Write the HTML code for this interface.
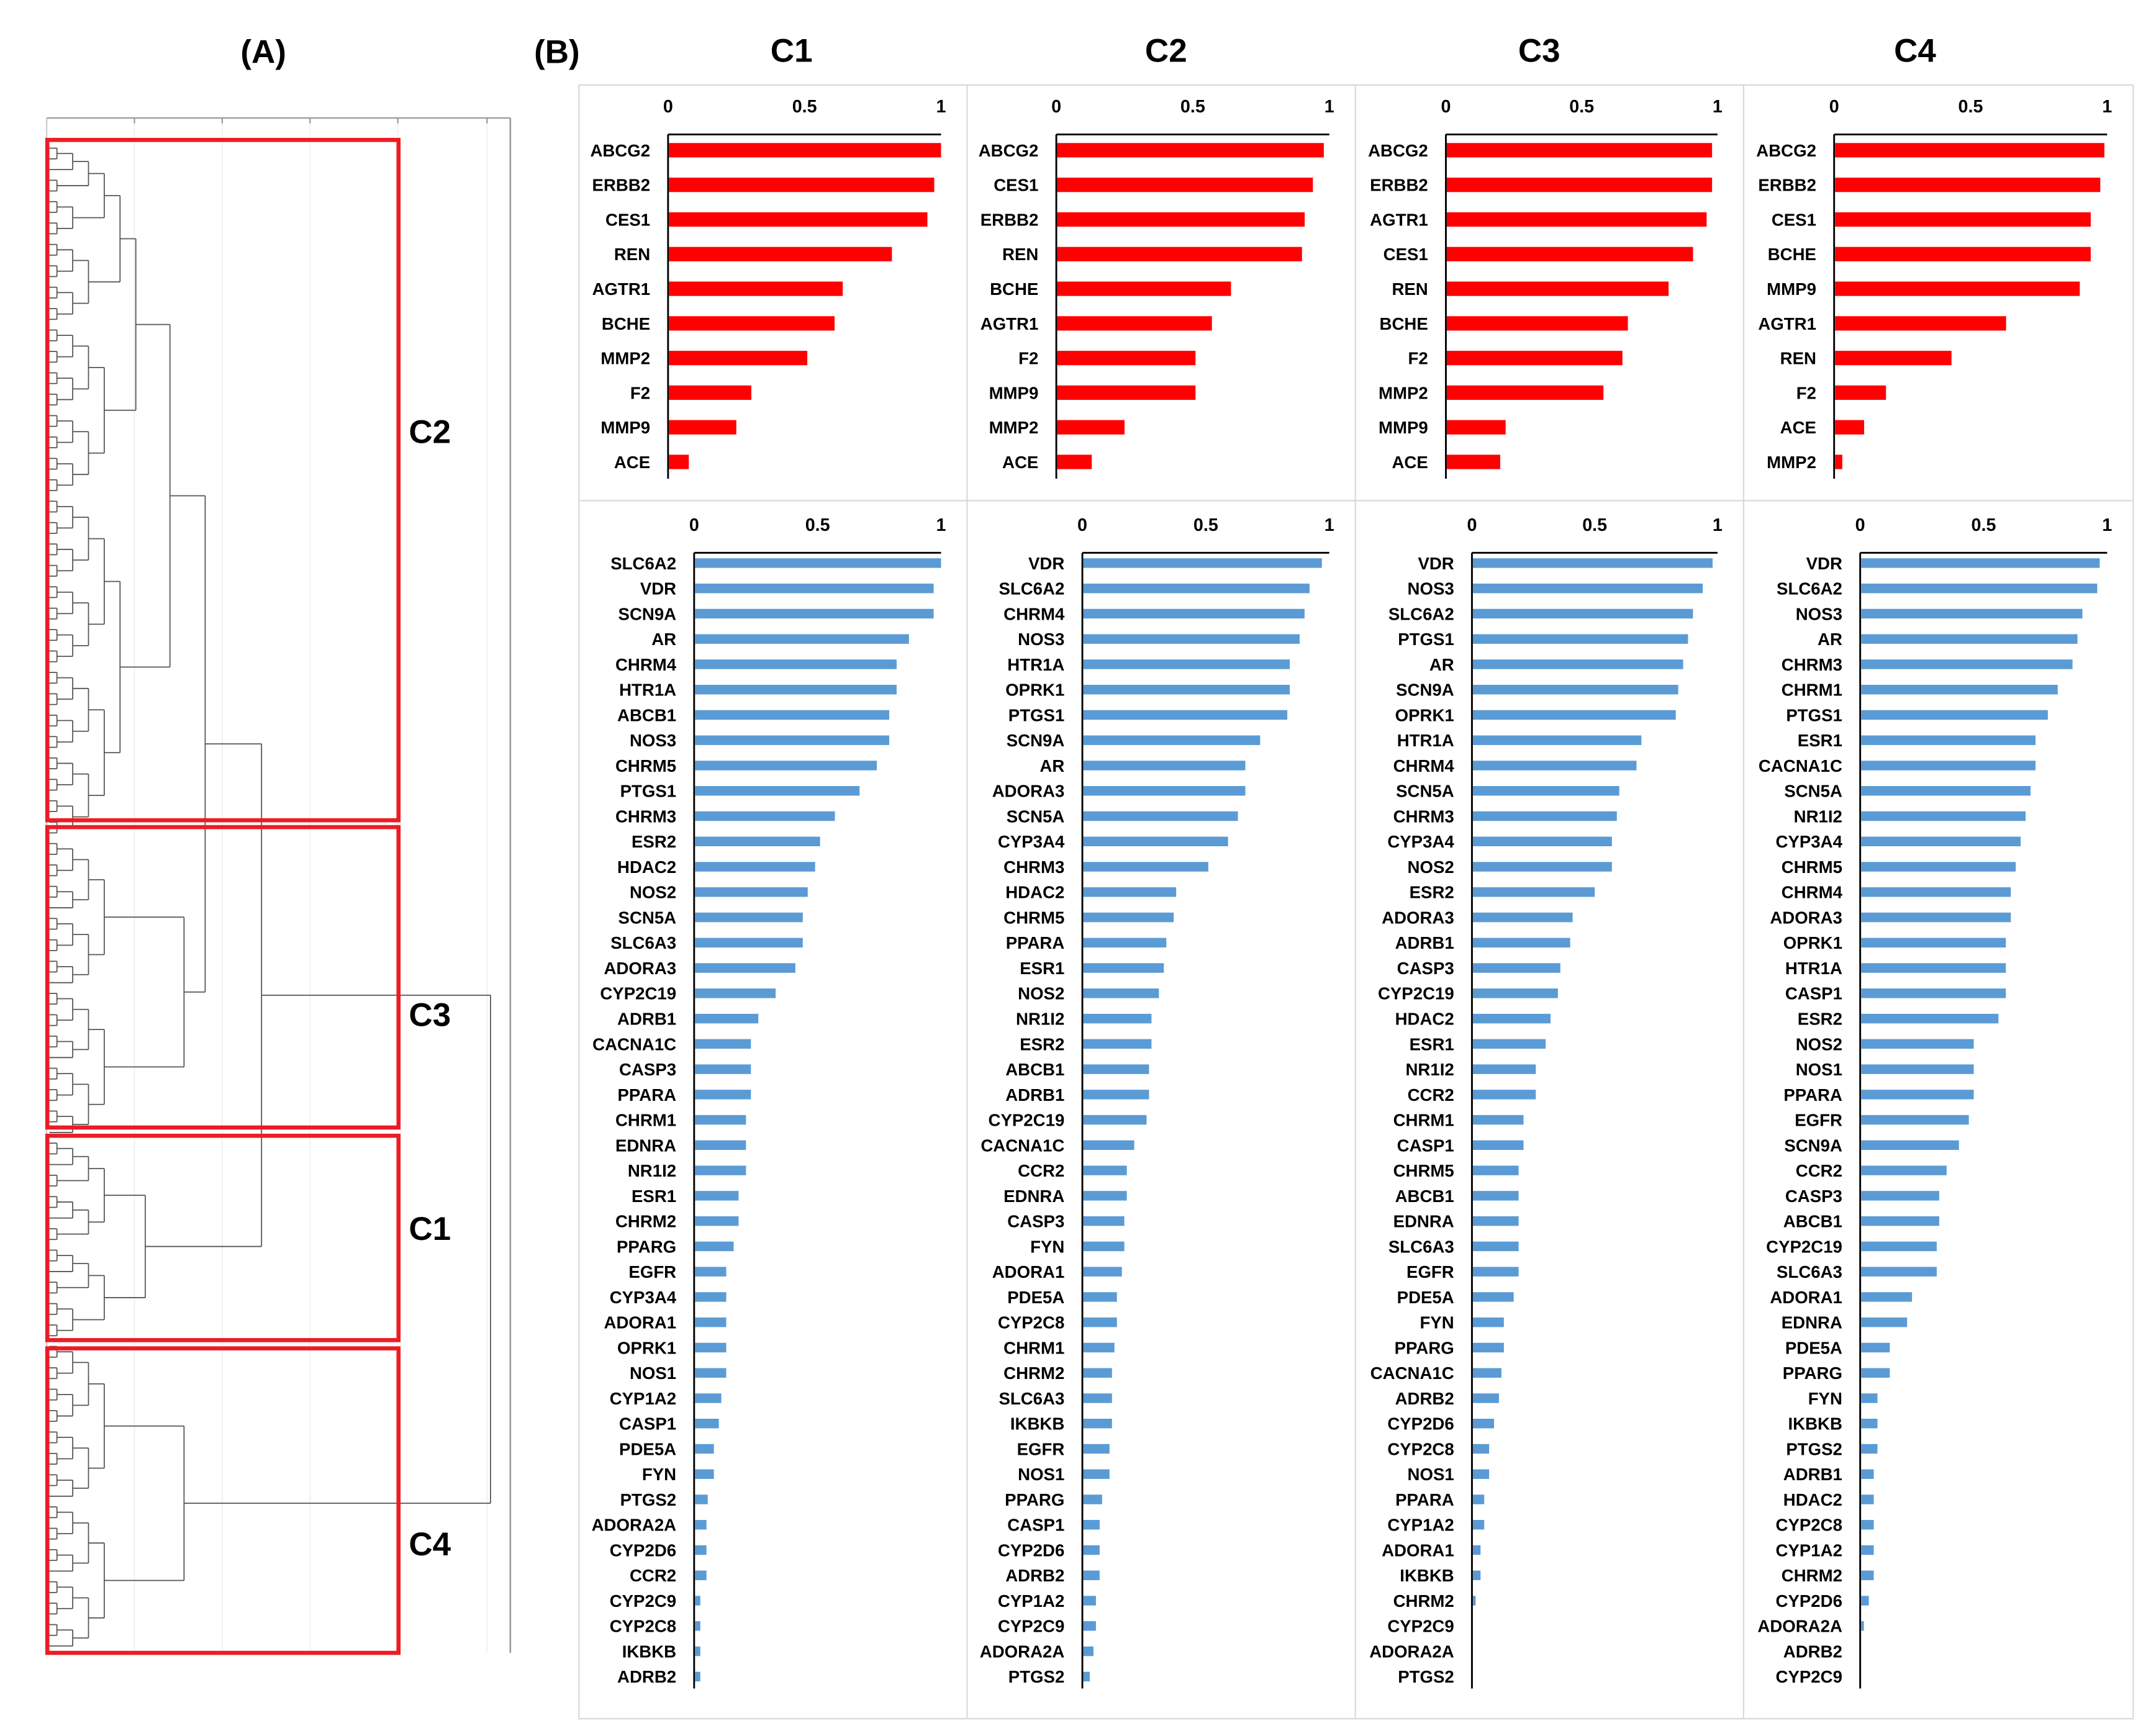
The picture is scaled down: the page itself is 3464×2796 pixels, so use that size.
<!DOCTYPE html>
<html><head><meta charset="utf-8"><style>
html,body{margin:0;padding:0;background:#fff;}
svg{display:block;font-family:"Liberation Sans",sans-serif;font-weight:bold;}
</style></head><body>
<svg id="fig" xmlns="http://www.w3.org/2000/svg" width="3464" height="2796" viewBox="0 0 1568 1265.6">
<rect x="0" y="0" width="1568" height="1265.6" fill="#fff"/>
<text x="192" y="46" font-size="24" text-anchor="middle">(A)</text>
<text x="406" y="46" font-size="24" text-anchor="middle">(B)</text>
<g id="dendro"></g>
<g id="panelb"></g>
</svg>
<script>
// ---------- Panel B data ----------
const clusterNames = ["C1","C2","C3","C4"];
const topGenesC1 = ["ABCG2","ERBB2","CES1","REN","AGTR1","BCHE","MMP2","F2","MMP9","ACE"];
const topValsC1 = [1.0,0.975,0.95,0.82,0.64,0.61,0.51,0.305,0.25,0.076];
const topGenesC2 = ["ABCG2","CES1","ERBB2","REN","BCHE","AGTR1","F2","MMP9","MMP2","ACE"];
const topValsC2 = [0.98,0.94,0.91,0.90,0.64,0.57,0.51,0.51,0.25,0.13];
const topGenesC3 = ["ABCG2","ERBB2","AGTR1","CES1","REN","BCHE","F2","MMP2","MMP9","ACE"];
const topValsC3 = [0.98,0.98,0.96,0.91,0.82,0.67,0.65,0.58,0.22,0.20];
const topGenesC4 = ["ABCG2","ERBB2","CES1","BCHE","MMP9","AGTR1","REN","F2","ACE","MMP2"];
const topValsC4 = [0.99,0.975,0.94,0.94,0.90,0.63,0.43,0.19,0.11,0.03];

const botGenesC1 = ["SLC6A2","VDR","SCN9A","AR","CHRM4","HTR1A","ABCB1","NOS3","CHRM5","PTGS1","CHRM3","ESR2","HDAC2","NOS2","SCN5A","SLC6A3","ADORA3","CYP2C19","ADRB1","CACNA1C","CASP3","PPARA","CHRM1","EDNRA","NR1I2","ESR1","CHRM2","PPARG","EGFR","CYP3A4","ADORA1","OPRK1","NOS1","CYP1A2","CASP1","PDE5A","FYN","PTGS2","ADORA2A","CYP2D6","CCR2","CYP2C9","CYP2C8","IKBKB","ADRB2"];
const botValsC1 = [1.0,0.97,0.97,0.87,0.82,0.82,0.79,0.79,0.74,0.67,0.57,0.51,0.49,0.46,0.44,0.44,0.41,0.33,0.26,0.23,0.23,0.23,0.21,0.21,0.21,0.18,0.18,0.16,0.13,0.13,0.13,0.13,0.13,0.11,0.10,0.08,0.08,0.055,0.05,0.05,0.05,0.025,0.025,0.025,0.025];
const botGenesC2 = ["VDR","SLC6A2","CHRM4","NOS3","HTR1A","OPRK1","PTGS1","SCN9A","AR","ADORA3","SCN5A","CYP3A4","CHRM3","HDAC2","CHRM5","PPARA","ESR1","NOS2","NR1I2","ESR2","ABCB1","ADRB1","CYP2C19","CACNA1C","CCR2","EDNRA","CASP3","FYN","ADORA1","PDE5A","CYP2C8","CHRM1","CHRM2","SLC6A3","IKBKB","EGFR","NOS1","PPARG","CASP1","CYP2D6","ADRB2","CYP1A2","CYP2C9","ADORA2A","PTGS2"];
const botValsC2 = [0.97,0.92,0.90,0.88,0.84,0.84,0.83,0.72,0.66,0.66,0.63,0.59,0.51,0.38,0.37,0.34,0.33,0.31,0.28,0.28,0.27,0.27,0.26,0.21,0.18,0.18,0.17,0.17,0.16,0.14,0.14,0.13,0.12,0.12,0.12,0.11,0.11,0.08,0.07,0.07,0.07,0.055,0.055,0.045,0.03];
const botGenesC3 = ["VDR","NOS3","SLC6A2","PTGS1","AR","SCN9A","OPRK1","HTR1A","CHRM4","SCN5A","CHRM3","CYP3A4","NOS2","ESR2","ADORA3","ADRB1","CASP3","CYP2C19","HDAC2","ESR1","NR1I2","CCR2","CHRM1","CASP1","CHRM5","ABCB1","EDNRA","SLC6A3","EGFR","PDE5A","FYN","PPARG","CACNA1C","ADRB2","CYP2D6","CYP2C8","NOS1","PPARA","CYP1A2","ADORA1","IKBKB","CHRM2","CYP2C9","ADORA2A","PTGS2"];
const botValsC3 = [0.98,0.94,0.90,0.88,0.86,0.84,0.83,0.69,0.67,0.60,0.59,0.57,0.57,0.50,0.41,0.40,0.36,0.35,0.32,0.30,0.26,0.26,0.21,0.21,0.19,0.19,0.19,0.19,0.19,0.17,0.13,0.13,0.12,0.11,0.09,0.07,0.07,0.05,0.05,0.035,0.035,0.015,0,0,0];
const botGenesC4 = ["VDR","SLC6A2","NOS3","AR","CHRM3","CHRM1","PTGS1","ESR1","CACNA1C","SCN5A","NR1I2","CYP3A4","CHRM5","CHRM4","ADORA3","OPRK1","HTR1A","CASP1","ESR2","NOS2","NOS1","PPARA","EGFR","SCN9A","CCR2","CASP3","ABCB1","CYP2C19","SLC6A3","ADORA1","EDNRA","PDE5A","PPARG","FYN","IKBKB","PTGS2","ADRB1","HDAC2","CYP2C8","CYP1A2","CHRM2","CYP2D6","ADORA2A","ADRB2","CYP2C9"];
const botValsC4 = [0.97,0.96,0.90,0.88,0.86,0.80,0.76,0.71,0.71,0.69,0.67,0.65,0.63,0.61,0.61,0.59,0.59,0.59,0.56,0.46,0.46,0.46,0.44,0.40,0.35,0.32,0.32,0.31,0.31,0.21,0.19,0.12,0.12,0.07,0.07,0.07,0.055,0.055,0.055,0.055,0.055,0.035,0.015,0,0];
const tickVals = [0, 0.5, 1];
const tickLabels = ["0","0.5","1"];

// ---------- Dendrogram data (leaf counts per cluster, top to bottom) ----------
const clusterOrder = ["C2","C3","C1","C4"];
const clusterLeafCounts = [65, 28, 19, 29];
const clusterRootHeights = [0.35, 0.39, 0.28, 0.39];
const joinHeights = [0.45, 0.61, 1.26]; // C2+C3, +C1, +C4 (axis units 0..1.35)

const NS="http://www.w3.org/2000/svg";
function mk(tag, attrs, parent){const e=document.createElementNS(NS,tag);for(const k in attrs)e.setAttribute(k,attrs[k]);parent.appendChild(e);return e;}

// ---------- Panel B ----------
const pb=document.getElementById('panelb');
const gridColor="#d9d9d9";
const frame=mk('rect',{x:422,y:62,width:1133,height:1191,fill:'none',stroke:gridColor,'stroke-width':1},pb);

const hdiv=mk('line',{x1:422,y1:365,x2:1555,y2:365,stroke:gridColor,'stroke-width':1},pb);

[705,988,1271].forEach(x=>{const l=mk('line',{x1:x,y1:62,x2:x,y2:1253,stroke:gridColor,'stroke-width':1},pb);
});
const titleX=[577,850,1122,1396];
const topAxis0=[487,770,1054,1337], topAxis1=[686,969,1252,1536];
const botAxis0=[506,789,1073,1356], botAxis1=[686,969,1252,1536];
const topG=[topGenesC1,topGenesC2,topGenesC3,topGenesC4], topV=[topValsC1,topValsC2,topValsC3,topValsC4];
const botG=[botGenesC1,botGenesC2,botGenesC3,botGenesC4], botV=[botValsC1,botValsC2,botValsC3,botValsC4];

function drawChart(g, genes, vals, a0, a1, axisY, tickY, row0, rowStep, barH, color, yEnd, nameP){
  const sx=v=>a0+(a1-a0)*v;
  tickVals.forEach((t,i)=>{const tx=mk('text',{x:sx(t),y:tickY,'font-size':13,'text-anchor':'middle'},g);tx.textContent=tickLabels[i];
    });
  const ax=mk('line',{x1:a0,y1:axisY,x2:a1,y2:axisY,stroke:'#000','stroke-width':1.3},g);
  
  const ay=mk('line',{x1:a0,y1:axisY,x2:a0,y2:yEnd,stroke:'#000','stroke-width':1.3},g);
  
  genes.forEach((gn,i)=>{const cy=row0+i*rowStep;
    const r=mk('rect',{x:a0+0.7,y:cy-barH/2,width:Math.max(0,sx(vals[i])-a0-0.7),height:barH,fill:color},g);
    
    const t=mk('text',{x:a0-13,y:cy+4.5,'font-size':12.5,'text-anchor':'end'},g);t.textContent=gn;
    });
}
for(let c=0;c<4;c++){
  const tt=mk('text',{x:titleX[c],y:45,'font-size':24,'text-anchor':'middle'},pb);tt.textContent=clusterNames[c];
  
  const gt=mk('g',{},pb);
  drawChart(gt,topG[c],topV[c],topAxis0[c],topAxis1[c],98,82,109.5,25.25,10.5,'#ff0000',349,'top-'+clusterNames[c].toLowerCase());
  const gb=mk('g',{},pb);
  drawChart(gb,botG[c],botV[c],botAxis0[c],botAxis1[c],403,387,410.5,18.45,7,'#5b9bd5',1231,'bottom-'+clusterNames[c].toLowerCase());
}

// ---------- Dendrogram ----------
const dg=document.getElementById('dendro');
const dx0=34, dx1=355; // axis 0 .. 1.25
const hx=h=>dx0+(dx1-dx0)*(h/1.25);
[98,162,226,290,355].forEach(x=>{const l=mk('line',{x1:x,y1:86,x2:x,y2:1205,stroke:'#efefef','stroke-width':0.8},dg);
  });
const dtop=mk('line',{x1:34,y1:86,x2:372,y2:86,stroke:'#999','stroke-width':1},dg);

[34,98,162,226,290,355].forEach(x=>{const l=mk('line',{x1:x,y1:86,x2:x,y2:90,stroke:'#999','stroke-width':1},dg);
  });
const dright=mk('line',{x1:372,y1:86,x2:372,y2:1205,stroke:'#999','stroke-width':1.2},dg);

const dleft=mk('line',{x1:34,y1:86,x2:34,y2:1205,stroke:'#ccc','stroke-width':1},dg);


const leafStep=(1200-108)/(clusterLeafCounts.reduce((a,b)=>a+b,0)-1);
let leafIdx=0;
function seg(x1,y1,x2,y2){const l=mk('line',{x1:x1,y1:y1,x2:x2,y2:y2,stroke:'#555','stroke-width':0.8},dg);
  }
function build(n, rootX){ // returns {y,x}
  if(n===1){const y=108+leafIdx*leafStep;leafIdx++;return {y:y,x:36};}
  const a=Math.ceil(n/2), b=n-a;
  const lvl=Math.ceil(Math.log2(n));
  const x = rootX!==undefined? rootX : 36+11.5*lvl-6;
  const L=build(a), R=build(b);
  seg(L.x,L.y,x,L.y);seg(R.x,R.y,x,R.y);seg(x,L.y,x,R.y);
  return {y:(L.y+R.y)/2,x:x};
}
const roots=clusterLeafCounts.map((n,i)=>build(n,hx(clusterRootHeights[i])));
function join(A,B,h){const x=hx(h);seg(A.x,A.y,x,A.y);seg(B.x,B.y,x,B.y);seg(x,A.y,x,B.y);return {x:x,y:(A.y+B.y)/2};}
let j=join(roots[0],roots[1],joinHeights[0]);
j=join(j,roots[2],joinHeights[1]);
j=join(j,roots[3],joinHeights[2]);

const boxes=[[102,598,'C2',315],[603,822,'C3',740],[828,977,'C1',896],[983,1205,'C4',1126]];
boxes.forEach(b=>{const r=mk('rect',{x:34.5,y:b[0],width:256,height:b[1]-b[0],fill:'none',stroke:'#ed1c24','stroke-width':3},dg);
  
  const t=mk('text',{x:298,y:b[3]+8,'font-size':24},dg);t.textContent=b[2];
  });
</script>
</body></html>
